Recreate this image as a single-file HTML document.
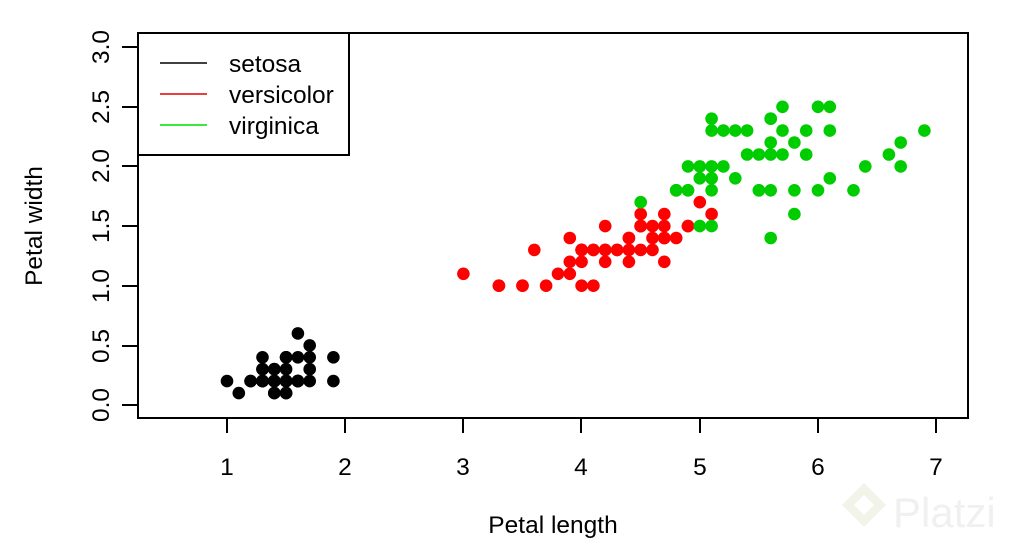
<!DOCTYPE html>
<html><head><meta charset="utf-8"><style>
html,body{margin:0;padding:0;background:#fff;}
svg{display:block;font-family:"Liberation Sans",Arial,sans-serif;}
</style></head><body>
<svg id="s" width="1016" height="548" viewBox="0 0 1016 548" xmlns="http://www.w3.org/2000/svg">
<rect width="1016" height="548" fill="#fff"/>
<path d="M842 505 l22 -22 l22 22 l-22 22z M854 505 l10 -10 l10 10 l-10 10z" fill-rule="evenodd" fill="#f2f4ea"/>
<text x="893" y="527" font-size="42" fill="#f0f0f0">Platzi</text>
<rect x="138" y="33" width="830" height="385" fill="none" stroke="#000" stroke-width="2"/>
<g stroke="#000" stroke-width="2">
<line x1="227" y1="418" x2="227" y2="433"/><line x1="345" y1="418" x2="345" y2="433"/>
<line x1="463" y1="418" x2="463" y2="433"/><line x1="581" y1="418" x2="581" y2="433"/>
<line x1="700" y1="418" x2="700" y2="433"/><line x1="818" y1="418" x2="818" y2="433"/>
<line x1="936" y1="418" x2="936" y2="433"/>
<line x1="122" y1="405" x2="138" y2="405"/><line x1="122" y1="346" x2="138" y2="346"/>
<line x1="122" y1="286" x2="138" y2="286"/><line x1="122" y1="226" x2="138" y2="226"/>
<line x1="122" y1="166" x2="138" y2="166"/><line x1="122" y1="107" x2="138" y2="107"/>
<line x1="122" y1="47" x2="138" y2="47"/>
</g>
<g font-size="24.5" fill="#000" text-anchor="middle">
<text x="227" y="475">1</text><text x="345" y="475">2</text><text x="463" y="475">3</text>
<text x="581" y="475">4</text><text x="700" y="475">5</text><text x="818" y="475">6</text><text x="936" y="475">7</text>
<text transform="translate(109,405) rotate(-90)">0.0</text>
<text transform="translate(109,346) rotate(-90)">0.5</text>
<text transform="translate(109,286) rotate(-90)">1.0</text>
<text transform="translate(109,226) rotate(-90)">1.5</text>
<text transform="translate(109,166) rotate(-90)">2.0</text>
<text transform="translate(109,107) rotate(-90)">2.5</text>
<text transform="translate(109,47) rotate(-90)">3.0</text>
<text x="553" y="533">Petal length</text>
<text transform="translate(42,226) rotate(-90)">Petal width</text>
</g>
<rect x="138" y="33" width="211" height="122" fill="#fff" stroke="#000" stroke-width="2"/>
<line x1="160" y1="63" x2="207" y2="63" stroke="#000" stroke-width="1.5"/>
<line x1="160" y1="94" x2="207" y2="94" stroke="#d00" stroke-width="1.5"/>
<line x1="160" y1="125" x2="207" y2="125" stroke="#0d0" stroke-width="1.5"/>
<g font-size="24.5" fill="#000">
<text x="229" y="72">setosa</text>
<text x="229" y="103">versicolor</text>
<text x="229" y="134">virginica</text>
</g>
<g id="pts"></g>
</svg>
<script>
var d=[["#000","1.4 .2,1.4 .2,1.3 .2,1.5 .2,1.4 .2,1.7 .4,1.4 .3,1.5 .2,1.4 .2,1.5 .1,1.5 .2,1.6 .2,1.4 .1,1.1 .1,1.2 .2,1.5 .4,1.3 .4,1.4 .3,1.7 .3,1.5 .3,1.7 .2,1.5 .4,1.0 .2,1.7 .5,1.9 .2,1.6 .2,1.6 .4,1.5 .2,1.4 .2,1.6 .2,1.6 .2,1.5 .4,1.5 .1,1.4 .2,1.5 .2,1.2 .2,1.3 .2,1.4 .1,1.3 .2,1.5 .2,1.3 .3,1.3 .3,1.3 .2,1.6 .6,1.9 .4,1.4 .3,1.6 .2,1.4 .2,1.5 .2,1.4 .2"],
["#f00","4.7 1.4,4.5 1.5,4.9 1.5,4.0 1.3,4.6 1.5,4.5 1.3,4.7 1.6,3.3 1.0,4.6 1.3,3.9 1.4,3.5 1.0,4.2 1.5,4.0 1.0,4.7 1.4,3.6 1.3,4.4 1.4,4.5 1.5,4.1 1.0,4.5 1.5,3.9 1.1,4.8 1.8,4.0 1.3,4.9 1.5,4.7 1.2,4.3 1.3,4.4 1.4,4.8 1.4,5.0 1.7,4.5 1.5,3.5 1.0,3.8 1.1,3.7 1.0,3.9 1.2,5.1 1.6,4.5 1.5,4.5 1.6,4.7 1.5,4.4 1.3,4.1 1.3,4.0 1.3,4.4 1.2,4.6 1.4,4.0 1.2,3.3 1.0,4.2 1.3,4.2 1.2,4.2 1.3,4.3 1.3,3.0 1.1,4.1 1.3"],
["#00cd00","6.0 2.5,5.1 1.9,5.9 2.1,5.6 1.8,5.8 2.2,6.6 2.1,4.5 1.7,6.3 1.8,5.8 1.8,6.1 2.5,5.1 2.0,5.3 1.9,5.5 2.1,5.0 2.0,5.1 2.4,5.3 2.3,5.5 1.8,6.7 2.2,6.9 2.3,5.0 1.5,5.7 2.3,4.9 2.0,6.7 2.0,4.9 1.8,5.7 2.1,6.0 1.8,4.8 1.8,4.9 1.8,5.6 2.1,5.8 1.6,6.1 1.9,6.4 2.0,5.6 2.2,5.1 1.5,5.6 1.4,6.1 2.3,5.6 2.4,5.5 1.8,4.8 1.8,5.4 2.1,5.6 2.4,5.1 2.3,5.1 1.9,5.9 2.3,5.7 2.5,5.2 2.3,5.0 1.9,5.2 2.0,5.4 2.3,5.1 1.8"]];
var g=document.getElementById("pts"),h="";
d.forEach(function(s){s[1].split(",").forEach(function(p){var v=p.split(" ");
var x=227+(parseFloat(v[0])-1)*118.2,y=405-parseFloat(v[1])*119.3;
h+='<circle cx="'+x.toFixed(1)+'" cy="'+y.toFixed(1)+'" r="6.3" fill="'+s[0]+'"/>';});});
g.innerHTML=h;
</script>
</body></html>
